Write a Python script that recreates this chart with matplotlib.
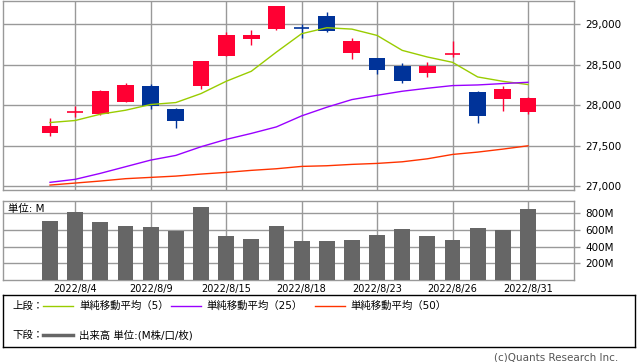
import matplotlib
matplotlib.use('Agg')
import matplotlib.pyplot as plt
from matplotlib.patches import Rectangle
from matplotlib.ticker import FuncFormatter

plt.rcParams['font.family'] = ['DejaVu Sans', 'Noto Sans CJK JP']

# August 2022 trading days shown
dates = ['8/3', '8/4', '8/5', '8/8', '8/9', '8/10', '8/12', '8/15', '8/16', '8/17',
         '8/18', '8/19', '8/22', '8/23', '8/24', '8/25', '8/26', '8/29', '8/30', '8/31']
opens = [27658, 27920, 27897, 28037, 28235, 27951, 28235, 28609, 28819, 28942,
         28950, 29099, 28646, 28580, 28481, 28399, 28632, 28160, 28078, 27917]
highs = [27839, 27996, 28194, 28276, 28263, 27967, 28543, 28901, 28926, 29222,
         29000, 29148, 28827, 28580, 28519, 28531, 28790, 28173, 28235, 28099]
lows = [27621, 27856, 27885, 28037, 27951, 27720, 28198, 28609, 28745, 28926,
        28831, 28901, 28572, 28387, 28276, 28350, 28597, 27782, 27926, 27889]
closes = [27740, 27926, 28177, 28247, 27988, 27806, 28543, 28864, 28868, 29222,
          28942, 28918, 28790, 28436, 28300, 28481, 28638, 27868, 28198, 28086]
ma5 = [27786, 27811, 27889, 27938, 28009, 28033, 28144, 28296, 28420, 28658,
       28885, 28959, 28942, 28864, 28679, 28597, 28531, 28350, 28296, 28256]
ma25 = [27046, 27083, 27157, 27239, 27321, 27379, 27486, 27577, 27651, 27732,
        27868, 27975, 28070, 28123, 28173, 28210, 28243, 28251, 28268, 28284]
ma50 = [27012, 27037, 27062, 27091, 27107, 27123, 27148, 27169, 27194, 27214,
        27243, 27251, 27268, 27280, 27300, 27337, 27391, 27420, 27457, 27498]
volume = [710, 816, 698, 651, 639, 592, 875, 532, 497, 651,
          473, 473, 485, 544, 615, 532, 485, 627, 603, 852]

label_dates = ['8/4', '8/9', '8/15', '8/18', '8/23', '8/26', '8/31']
price_ticks = [27000, 27500, 28000, 28500, 29000]
vol_ticks = [200, 400, 600, 800]

up_color = '#ff0033'
down_color = '#003399'
grid_color = '#999999'

W, H = 638, 362
fig = plt.figure(figsize=(W / 100, H / 100), dpi=100)


def box(x0, y0, x1, y1):
    return [x0 / W, 1 - y1 / H, (x1 - x0) / W, (y1 - y0) / H]


xs = list(range(len(dates)))
tick_pos = [dates.index(d) for d in label_dates]
xlim = (-1.87, 20.83)

# price panel
ax = fig.add_axes(box(3, 0.5, 574, 190))
for i in xs:
    o, h, l, c = opens[i], highs[i], lows[i], closes[i]
    col = up_color if c >= o else down_color
    ax.vlines(i, l, h, color=col, lw=1.0, zorder=3)
    if abs(c - o) < 15:
        ax.hlines(o, i - 0.31, i + 0.31, color=col, lw=1.2, zorder=3)
    else:
        ax.add_patch(Rectangle((i - 0.335, min(o, c)), 0.67, abs(c - o),
                               facecolor=col, edgecolor=col, lw=0, zorder=3))
ax.plot(xs, ma5, color='#99cc00', lw=1.0, zorder=4)
ax.plot(xs, ma25, color='#9900ff', lw=1.0, zorder=4)
ax.plot(xs, ma50, color='#ff3300', lw=1.0, zorder=4)
ax.set_xlim(*xlim)
ax.set_ylim(26951, 29296)
ax.set_xticks(tick_pos)
ax.set_xticklabels([])
ax.set_yticks(price_ticks)
ax.yaxis.set_major_formatter(FuncFormatter(lambda v, p: f'{int(v):,}'))
ax.yaxis.tick_right()
ax.tick_params(axis='y', length=4, width=1, color=grid_color, pad=4, labelsize=7.5)
ax.tick_params(axis='x', length=0)
ax.grid(True, color=grid_color, lw=1)
ax.set_axisbelow(True)
for s in ax.spines.values():
    s.set_color(grid_color)
    s.set_linewidth(1)

# volume panel
axv = fig.add_axes(box(3, 201.3, 574, 280.3))
axv.bar(xs, volume, width=0.63, color='#666666', zorder=3)
axv.set_xlim(*xlim)
axv.set_ylim(0, 940)
axv.set_xticks(tick_pos)
axv.set_xticklabels(['2022/' + d for d in label_dates])
axv.set_yticks(vol_ticks)
axv.set_yticklabels([f'{v}M' for v in vol_ticks])
axv.yaxis.tick_right()
axv.tick_params(axis='y', length=4, width=1, color=grid_color, pad=4, labelsize=7.5)
axv.tick_params(axis='x', length=0, pad=3, labelsize=7)
axv.grid(True, color=grid_color, lw=1)
axv.set_axisbelow(True)
for s in axv.spines.values():
    s.set_color(grid_color)
    s.set_linewidth(1)
axv.text(5 / 571, 1 - 8 / 79, '単位: M', transform=axv.transAxes,
         fontsize=7.5, va='center', ha='left', zorder=5)

# legend box
axl = fig.add_axes(box(3, 295.3, 635, 346.5))
axl.set_xlim(3, 635)
axl.set_ylim(346.5, 295.3)
axl.set_xticks([])
axl.set_yticks([])
for s in axl.spines.values():
    s.set_color('black')
    s.set_linewidth(1)
r1, r2 = 305.5, 335.3
axl.text(12, r1, '上段：', fontsize=7.5, va='center')
axl.plot([43, 73], [r1, r1], color='#99cc00', lw=1)
axl.text(79, r1, '単純移動平均（5）', fontsize=7.5, va='center')
axl.plot([171, 201], [r1, r1], color='#9900ff', lw=1)
axl.text(206.5, r1, '単純移動平均（25）', fontsize=7.5, va='center')
axl.plot([315, 345], [r1, r1], color='#ff3300', lw=1)
axl.text(350.5, r1, '単純移動平均（50）', fontsize=7.5, va='center')
axl.text(12, r2, '下段：', fontsize=7.5, va='center')
axl.plot([43, 73], [r2, r2], color='#666666', lw=2.5)
axl.text(79, r2, '出来高 単位:(M株/口/枚)', fontsize=7.5, va='center')

fig.text(618 / W, 1 - 357.5 / H, '(c)Quants Research Inc.', fontsize=7.5,
         color='#555555', ha='right', va='center')

fig.savefig('out.png', dpi=100)
